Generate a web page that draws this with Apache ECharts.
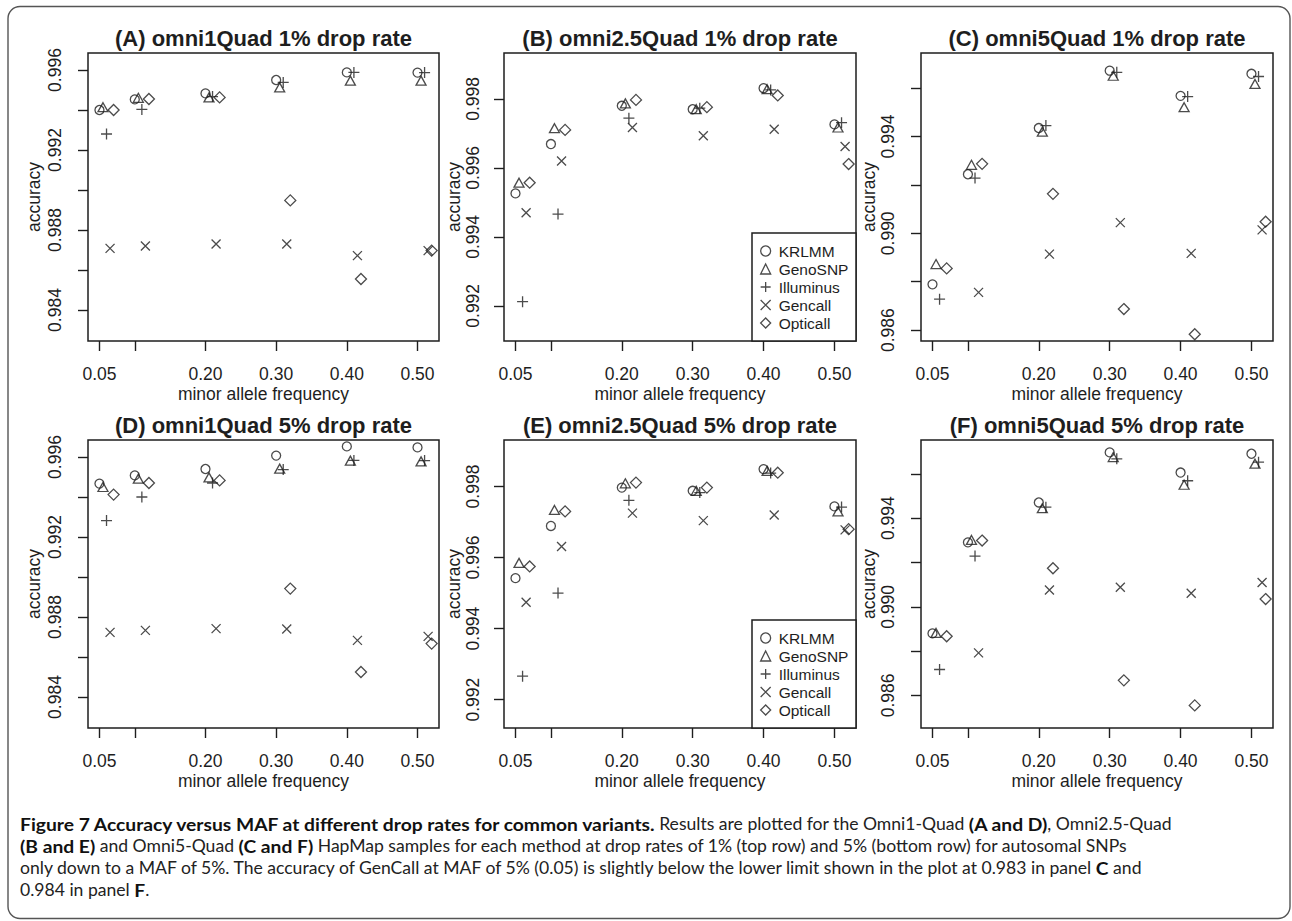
<!DOCTYPE html>
<html><head><meta charset="utf-8">
<script src="https://cdn.jsdelivr.net/npm/echarts@6/dist/echarts.min.js"></script>
<style>html,body{margin:0;padding:0;background:#fff}#c{width:1292px;height:921px}</style>
</head><body><div id="c"></div>
<script>
// ---------------- data ----------------
const methods = ['KRLMM', 'GenoSNP', 'Illuminus', 'Gencall', 'Opticall'];
const mafGroups = [0.05, 0.10, 0.20, 0.30, 0.40, 0.50];
const mafJitter = [0, 0.005, 0.010, 0.015, 0.020];   // per method horizontal offset
const xTicks = [0.05, 0.10, 0.20, 0.30, 0.40, 0.50];
const xLabels = [0.05, 0.20, 0.30, 0.40, 0.50];

const panelTitles = [
  '(A) omni1Quad 1% drop rate', '(B) omni2.5Quad 1% drop rate', '(C) omni5Quad 1% drop rate',
  '(D) omni1Quad 5% drop rate', '(E) omni2.5Quad 5% drop rate', '(F) omni5Quad 5% drop rate'
];

// accuracy, rows in methods order, columns in mafGroups order
const accA = [
  [0.99400, 0.99453, 0.99483, 0.99550, 0.99588, 0.99587],
  [0.99414, 0.99461, 0.99463, 0.99513, 0.99547, 0.99547],
  [0.99280, 0.99403, 0.99467, 0.99538, 0.99588, 0.99587],
  [0.98708, 0.98720, 0.98730, 0.98730, 0.98672, 0.98697],
  [0.99400, 0.99455, 0.99463, 0.98948, 0.98555, 0.98697]
];
const accB = [
  [0.99526, 0.99669, 0.99780, 0.99770, 0.99831, 0.99726],
  [0.99557, 0.99715, 0.99787, 0.99770, 0.99828, 0.99717],
  [0.99212, 0.99466, 0.99744, 0.99773, 0.99826, 0.99731],
  [0.99470, 0.99620, 0.99717, 0.99693, 0.99712, 0.99662],
  [0.99557, 0.99710, 0.99797, 0.99776, 0.99810, 0.99611]
];
const accC = [
  [0.98789, 0.99244, 0.99435, 0.99672, 0.99568, 0.99659],
  [0.98873, 0.99283, 0.99420, 0.99651, 0.99521, 0.99617],
  [0.98728, 0.99228, 0.99445, 0.99665, 0.99565, 0.99648],
  [0.98300, 0.98756, 0.98914, 0.99044, 0.98917, 0.99014],
  [0.98855, 0.99287, 0.99163, 0.98687, 0.98583, 0.99048]
];
const accD = [
  [0.99467, 0.99508, 0.99540, 0.99607, 0.99653, 0.99648],
  [0.99450, 0.99492, 0.99498, 0.99542, 0.99582, 0.99578],
  [0.99282, 0.99400, 0.99470, 0.99537, 0.99583, 0.99582],
  [0.98723, 0.98733, 0.98742, 0.98740, 0.98683, 0.98703],
  [0.99412, 0.99470, 0.99483, 0.98942, 0.98525, 0.98667]
];
const accE = [
  [0.99542, 0.99689, 0.99797, 0.99788, 0.99849, 0.99744],
  [0.99585, 0.99734, 0.99809, 0.99788, 0.99844, 0.99730],
  [0.99266, 0.99500, 0.99761, 0.99783, 0.99838, 0.99742],
  [0.99474, 0.99631, 0.99725, 0.99704, 0.99720, 0.99678],
  [0.99575, 0.99730, 0.99811, 0.99797, 0.99839, 0.99680]
];
const accF = [
  [0.98880, 0.99291, 0.99471, 0.99697, 0.99606, 0.99691],
  [0.98882, 0.99302, 0.99445, 0.99676, 0.99551, 0.99646],
  [0.98717, 0.99229, 0.99450, 0.99668, 0.99569, 0.99653],
  [0.98400, 0.98792, 0.99076, 0.99088, 0.99061, 0.99110],
  [0.98867, 0.99299, 0.99174, 0.98668, 0.98555, 0.99035]
];

const yTicksAD = [0.984, 0.986, 0.988, 0.990, 0.992, 0.994, 0.996];
const yLabelsAD = [0.984, 0.988, 0.992, 0.996];
const yTicksBE = [0.992, 0.994, 0.996, 0.998];
const yLabelsBE = [0.992, 0.994, 0.996, 0.998];
const yTicksCF = [0.986, 0.988, 0.990, 0.992, 0.994, 0.996];
const yLabelsCF = [0.986, 0.990, 0.994];

const captionLines = [
  [['b', 'Figure 7 Accuracy versus MAF at different drop rates for common variants.'], ['n', ' Results are plotted for the Omni1-Quad '], ['b', '(A and D)'], ['n', ', Omni2.5-Quad']],
  [['b', '(B and E)'], ['n', ' and Omni5-Quad '], ['b', '(C and F)'], ['n', ' HapMap samples for each method at drop rates of 1% (top row) and 5% (bottom row) for autosomal SNPs']],
  [['n', 'only down to a MAF of 5%. The accuracy of GenCall at MAF of 5% (0.05) is slightly below the lower limit shown in the plot at 0.983 in panel '], ['b', 'C'], ['n', ' and']],
  [['n', '0.984 in panel '], ['b', 'F'], ['n', '.']]
];

// ---------------- layout / style ----------------
const FONT = '"Liberation Sans", Arial, Helvetica, sans-serif';
const INK = '#1e1e1e';
const accs = [accA, accB, accC, accD, accE, accF];
const yTicks = [yTicksAD, yTicksBE, yTicksCF, yTicksAD, yTicksBE, yTicksCF];
const yLabels = [yLabelsAD, yLabelsBE, yLabelsCF, yLabelsAD, yLabelsBE, yLabelsCF];
const yRanges = [[0.98245, 0.99685], [0.99098, 0.99933], [0.98555, 0.99745],
                 [0.98245, 0.99685], [0.99120, 0.99931], [0.98453, 0.99753]];
const gridBoxes = [
  [88, 53, 351, 288], [504, 53, 352, 288], [921, 53, 352, 288],
  [88, 440, 351, 288], [504, 440, 352, 288], [921, 440, 352, 288]
];
const yLabelMargin = [24, 22, 24, 24, 22, 24];
const yNameGap = [45, 40, 42, 45, 40, 42];
const symbols = ['circle', 'triangle', 'path://M0,5L10,5M5,0L5,10', 'path://M0,0L10,10M10,0L0,10', 'diamond'];
const symbolSizes = [9, [10, 9], 11, 9, 11];

const grid = [], xAxis = [], yAxis = [], series = [], graphic = [];
gridBoxes.forEach((b, p) => {
  grid.push({left: b[0], top: b[1], width: b[2], height: b[3], show: true,
    borderColor: INK, borderWidth: 1.5, backgroundColor: 'transparent'});
  xAxis.push({type: 'value', gridIndex: p, min: 0.0338, max: 0.5304,
    axisLine: {show: false}, splitLine: {show: false},
    axisTick: {show: true, length: 10, customValues: xTicks, lineStyle: {color: INK, width: 1.4}},
    axisLabel: {customValues: xLabels, formatter: v => v.toFixed(2), margin: 24,
      fontSize: 17.5, fontFamily: FONT, color: INK},
    name: 'minor allele frequency', nameLocation: 'middle', nameGap: 44,
    nameTextStyle: {fontSize: 17.5, fontFamily: FONT, color: INK}});
  yAxis.push({type: 'value', gridIndex: p, min: yRanges[p][0], max: yRanges[p][1],
    axisLine: {show: false}, splitLine: {show: false},
    axisTick: {show: true, length: 10, customValues: yTicks[p], lineStyle: {color: INK, width: 1.4}},
    axisLabel: {customValues: yLabels[p], formatter: v => v.toFixed(3), rotate: 90,
      margin: yLabelMargin[p], fontSize: 17.5, fontFamily: FONT, color: INK},
    name: 'accuracy', nameLocation: 'middle', nameGap: yNameGap[p],
    nameTextStyle: {fontSize: 17.5, fontFamily: FONT, color: INK}});
  methods.forEach((m, k) => {
    series.push({type: 'scatter', name: m, xAxisIndex: p, yAxisIndex: p,
      symbol: symbols[k], symbolSize: symbolSizes[k], clip: true, silent: true,
      emphasis: {disabled: true},
      itemStyle: {color: 'rgba(0,0,0,0)', borderColor: INK, borderWidth: 1.3},
      data: mafGroups.map((g, i) => [g + mafJitter[k], accs[p][k][i]])});
  });
  graphic.push({type: 'text', x: b[0] + b[2] / 2, y: p < 3 ? 38 : 425,
    style: {text: panelTitles[p], font: 'bold 22px ' + FONT, fill: INK,
      textAlign: 'center', textVerticalAlign: 'middle'}});
});

// legend boxes (panels B and E)
const legendBoxes = [[752, 233, 104, 108], [752, 620, 104, 108]];
legendBoxes.forEach(r => graphic.push({type: 'rect', shape: {x: r[0], y: r[1], width: r[2], height: r[3]},
  style: {fill: '#fff', stroke: INK, lineWidth: 1.5}, z: 5}));
const legend = legendBoxes.map(r => ({
  left: r[0] + 8, top: r[1] + 9, orient: 'vertical', padding: 0, itemGap: 0,
  itemWidth: 10, itemHeight: 10, selectedMode: false, z: 10,
  textStyle: {fontSize: 15.5, lineHeight: 18, fontFamily: FONT, color: INK, padding: [0, 0, 0, 3]},
  itemStyle: {color: 'rgba(0,0,0,0)', borderColor: INK, borderWidth: 1.3},
  data: methods.map((m, k) => ({name: m, icon: symbols[k]}))
}));

// outer frame
graphic.push({type: 'rect', shape: {x: 8, y: 6.5, width: 1282, height: 912, r: 12},
  style: {fill: 'none', stroke: '#555', lineWidth: 1.4}});

// caption: segments placed explicitly; widths measured with real SVG text layout
const CAP_FONT = 'Lato, sans-serif';
const CAP_SIZE = 17;
function capFont(kind) { return (kind === 'b' ? 'bold ' : 'normal ') + CAP_SIZE + 'px ' + CAP_FONT; }
const NS = 'http://www.w3.org/2000/svg';
const msvg = document.createElementNS(NS, 'svg');
msvg.setAttribute('width', '1600'); msvg.setAttribute('height', '40');
msvg.style.cssText = 'position:absolute;left:0;top:0;visibility:hidden';
const mg = document.createElementNS(NS, 'g');
const mt = document.createElementNS(NS, 'text');
mt.style.whiteSpace = 'pre';
mg.appendChild(mt); msvg.appendChild(mg); document.body.appendChild(msvg);
function measure(kind, s, sc) {
  if (!s) return 0;
  mg.setAttribute('transform', 'scale(' + sc + ',1)');
  mt.style.font = capFont(kind);
  mt.textContent = s;
  return mt.getComputedTextLength();
}
function sums(line, sc) {
  let n = 0, b = 0;
  line.forEach(seg => { const w = measure(seg[0], seg[1], sc); if (seg[0] === 'b') b += w; else n += w; });
  return [n, b];
}
// reference widths of line 1 and line 3 (in px)
const T1 = 1152, T3 = 1122;
let sN = 1, sB = 1;
for (let it = 0; it < 2; it++) {
  const [n1, b1] = sums(captionLines[0], (sN + sB) / 2);
  const [n3, b3] = sums(captionLines[2], (sN + sB) / 2);
  const det = n1 * b3 - b1 * n3;
  sN = (T1 * b3 - b1 * T3) / det;
  sB = (n1 * T3 - n3 * T1) / det;
}
captionLines.forEach((segs, i) => {
  let x = 20;
  segs.forEach(seg => {
    const sc = seg[0] === 'b' ? sB : sN;
    const lead = seg[1].match(/^\s*/)[0];
    const body = seg[1].trim();
    graphic.push({type: 'text', x: x + measure(seg[0], lead, sc) * sc, y: 824 + 22 * i, scaleX: sc,
      style: {text: body, font: capFont(seg[0]), fill: seg[0] === 'b' ? '#111' : '#222',
        textAlign: 'left', textVerticalAlign: 'middle'}});
    x += measure(seg[0], seg[1], sc) * sc;
  });
});
document.body.removeChild(msvg);

const chart = echarts.init(document.getElementById('c'), null, {renderer: 'svg'});
chart.setOption({animation: false, backgroundColor: '#fff', grid, xAxis, yAxis, series, legend, graphic});
</script></body></html>
